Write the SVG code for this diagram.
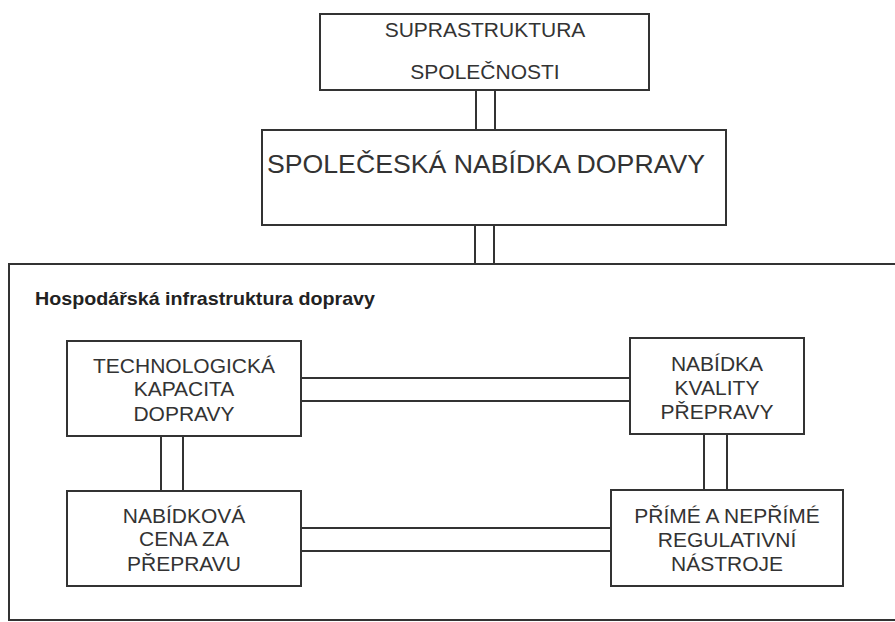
<svg xmlns="http://www.w3.org/2000/svg" width="895" height="622" viewBox="0 0 895 622">
<style>
.box{fill:#fff;stroke:#333;stroke-width:2}
.frame{fill:none;stroke:#333;stroke-width:2}
.con line{stroke:#333;stroke-width:2}
text{font-family:"Liberation Sans",Arial,sans-serif;fill:#333;text-anchor:middle;font-size:21px}
.big{font-size:26.5px;text-anchor:start}
.hdr{font-weight:bold;font-size:19px;text-anchor:start;fill:#222}
</style>
<rect width="895" height="622" fill="#fff"/>
<g id="container">
<rect class="frame" x="9" y="264" width="900" height="356"/>
<text class="hdr" x="35" y="305" textLength="340" lengthAdjust="spacingAndGlyphs">Hospodářská infrastruktura dopravy</text>
</g>
<g id="connectors" class="con">
<line x1="476" y1="90" x2="476" y2="130"/><line x1="495" y1="90" x2="495" y2="130"/>
<line x1="475" y1="225" x2="475" y2="264"/><line x1="494" y1="225" x2="494" y2="264"/>
<line x1="301" y1="378" x2="630" y2="378"/><line x1="301" y1="401" x2="630" y2="401"/>
<line x1="301" y1="528" x2="611" y2="528"/><line x1="301" y1="551" x2="611" y2="551"/>
<line x1="161" y1="436" x2="161" y2="491"/><line x1="183" y1="436" x2="183" y2="491"/>
<line x1="704" y1="434" x2="704" y2="490"/><line x1="727" y1="434" x2="727" y2="490"/>
</g>
<g id="suprastruktura">
<rect class="box" x="320" y="14" width="329" height="76"/>
<text x="485" y="37">SUPRASTRUKTURA</text>
<text x="485" y="79">SPOLEČNOSTI</text>
</g>
<g id="spolecenska">
<rect class="box" x="262" y="130" width="464" height="95"/>
<text class="big" x="267" y="173" textLength="438" lengthAdjust="spacingAndGlyphs">SPOLEČESKÁ NABÍDKA DOPRAVY</text>
</g>
<g id="technologicka">
<rect class="box" x="67" y="341" width="234" height="95"/>
<text x="184" y="373">TECHNOLOGICKÁ</text>
<text x="184" y="396">KAPACITA</text>
<text x="184" y="421">DOPRAVY</text>
</g>
<g id="kvalita">
<rect class="box" x="630" y="338" width="174" height="96"/>
<text x="717" y="371">NABÍDKA</text>
<text x="717" y="395">KVALITY</text>
<text x="717" y="419">PŘEPRAVY</text>
</g>
<g id="cena">
<rect class="box" x="67" y="491" width="234" height="95"/>
<text x="184" y="523">NABÍDKOVÁ</text>
<text x="184" y="546">CENA ZA</text>
<text x="184" y="571">PŘEPRAVU</text>
</g>
<g id="regulace">
<rect class="box" x="611" y="490" width="232" height="96"/>
<text x="727" y="523">PŘÍMÉ A NEPŘÍMÉ</text>
<text x="727" y="547">REGULATIVNÍ</text>
<text x="727" y="571">NÁSTROJE</text>
</g>
</svg>
